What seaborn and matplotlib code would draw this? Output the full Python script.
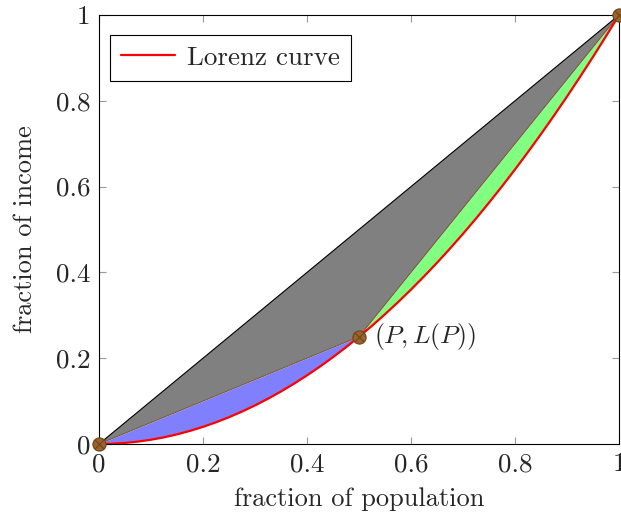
import numpy as np
import pandas as pd
import seaborn as sns
import matplotlib.pyplot as plt

# values
population = [0.0, 0.025, 0.05, 0.075, 0.1, 0.125, 0.15, 0.175, 0.2, 0.225, 0.25,
              0.275, 0.3, 0.325, 0.35, 0.375, 0.4, 0.425, 0.45, 0.475, 0.5,
              0.525, 0.55, 0.575, 0.6, 0.625, 0.65, 0.675, 0.7, 0.725, 0.75,
              0.775, 0.8, 0.825, 0.85, 0.875, 0.9, 0.925, 0.95, 0.975, 1.0]
income = [0.0, 0.0006, 0.0025, 0.0056, 0.01, 0.0156, 0.0225, 0.0306, 0.04, 0.0506, 0.0625,
          0.0756, 0.09, 0.1056, 0.1225, 0.1406, 0.16, 0.1806, 0.2025, 0.2256, 0.25,
          0.2756, 0.3025, 0.3306, 0.36, 0.3906, 0.4225, 0.4556, 0.49, 0.5256, 0.5625,
          0.6006, 0.64, 0.6806, 0.7225, 0.7656, 0.81, 0.8556, 0.9025, 0.9506, 1.0]
marked_x = [0.0, 0.5, 1.0]
marked_y = [0.0, 0.25, 1.0]
ticks = [0, 0.2, 0.4, 0.6, 0.8, 1]
tick_labels = ["0", "0.2", "0.4", "0.6", "0.8", "1"]

lorenz = pd.DataFrame({"population": population, "income": income})

sns.set_style("ticks")
plt.rcParams["font.family"] = "serif"
plt.rcParams["font.serif"] = ["cmr10"]
plt.rcParams["mathtext.fontset"] = "cm"
plt.rcParams["axes.formatter.use_mathtext"] = True

fig = plt.figure(figsize=(6.21, 5.22), dpi=100)
ax = fig.add_axes([99 / 621, 78 / 522, 520 / 621, 429 / 522])

x = np.array(population)
y = np.array(income)
px, py = marked_x[1], marked_y[1]

# gray triangle between equality line and the two chords
ax.fill([marked_x[0], marked_x[2], px], [marked_y[0], marked_y[2], py],
        color="#808080", zorder=1, lw=0)
ax.plot([marked_x[0], marked_x[2]], [marked_y[0], marked_y[2]], color="black", lw=0.8, zorder=2)
ax.plot([marked_x[0], px, marked_x[2]], [marked_y[0], py, marked_y[2]],
        color="#7a5a3a", lw=0.8, zorder=2)

# blue / green areas between chords and the curve
left = x <= px
right = x >= px
ax.fill_between(x[left], y[left], x[left] * py / px, color="#8080ff", lw=0, zorder=1)
ax.fill_between(x[right], y[right], py + (x[right] - px) * (1 - py) / (1 - px),
                color="#80ff80", lw=0, zorder=1)

sns.lineplot(data=lorenz, x="population", y="income", color="red", lw=1.6,
             label="Lorenz curve", ax=ax, zorder=3)

ax.scatter(marked_x, marked_y, s=90, color="#9b632c", edgecolor="#6e4519",
           lw=0.8, zorder=5, clip_on=False)
ax.scatter(marked_x, marked_y, s=40, marker="x", color="#6e4519", lw=0.8,
           zorder=6, clip_on=False)

ax.text(px + 0.028, py, r"$(P,L(P))$", fontsize=18.5, va="center", ha="left")

ax.set_xlim(0, 1)
ax.set_ylim(0, 1)
ax.set_xticks(ticks)
ax.set_xticklabels(tick_labels)
ax.set_yticks(ticks)
ax.set_yticklabels(tick_labels)
ax.tick_params(direction="in", top=True, right=True, length=5, width=0.8,
               color="#999999", labelsize=19.5, pad=6)
for s in ax.spines.values():
    s.set_linewidth(0.8)
    s.set_color("black")

ax.set_xlabel("fraction of population", fontsize=19, labelpad=8)
ax.set_ylabel("fraction of income", fontsize=19, labelpad=14)

leg = ax.legend(loc="upper left", bbox_to_anchor=(11 / 520, 1 - 20 / 429),
                fontsize=19.5, fancybox=False, edgecolor="black",
                framealpha=1, handlelength=2.0, handletextpad=0.45,
                borderaxespad=0, borderpad=0.4)
leg.get_frame().set_linewidth(0.8)

fig.savefig("out.png", dpi=100)
